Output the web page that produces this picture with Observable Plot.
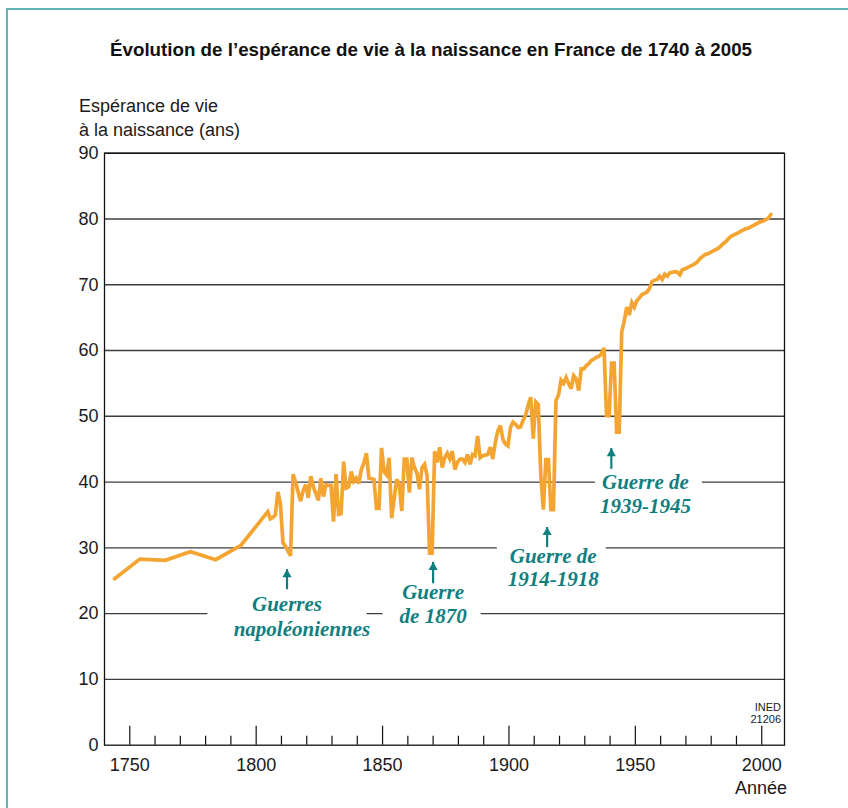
<!DOCTYPE html>
<html lang="fr">
<head>
<meta charset="utf-8">
<script src="https://cdn.jsdelivr.net/npm/d3@7"></script>
<script src="https://cdn.jsdelivr.net/npm/@observablehq/plot@0.6"></script>
<style>
  html, body { margin: 0; padding: 0; background: #fff; }
  #page { position: relative; width: 848px; height: 808px; overflow: hidden; background: #fff;
          font-family: "Liberation Sans", Arial, sans-serif; }
  #chart { position: absolute; left: 0; top: 130px; }
  #overlay { position: absolute; left: 0; top: 0; pointer-events: none; }
</style>
</head>
<body>
<div id="page">
  <div id="chart"></div>
  <svg id="overlay" width="848" height="808"></svg>
</div>
<script>
// ---------- Texts ----------
const titleText = "Évolution de l’espérance de vie à la naissance en France de 1740 à 2005";
const yTitleLines = ["Espérance de vie", "à la naissance (ans)"];
const xTitle = "Année";
const sourceLines = ["INED", "21206"];

// ---------- Data ----------
// Decade averages (x position as drawn)
const decadeYears  = [1744, 1754, 1764, 1774, 1784, 1794];
const decadeValues = [25.3, 28.3, 28.1, 29.4, 28.2, 30.4];

// Annual series (1806-2005), first point drawn at x = 1804.6, one point per year
const firstAnnualYear = 1804.6;
const annualValues = [
  35.5, 34.4, 34.6, 35.0, 38.5, 36.7, 30.8, 30.2, 29.5, 28.8,
  41.2, 40.0, 38.5, 37.1, 38.7, 39.6, 37.6, 40.9, 39.3, 38.3,
  37.2, 40.6, 37.8, 39.6, 39.5, 39.5, 34.0, 41.2, 35.1, 35.2,
  43.1, 39.1, 39.3, 41.6, 40.1, 40.6, 39.8, 41.9, 42.9, 44.4,
  40.6, 40.5, 40.4, 36.0, 36.0, 45.2, 41.6, 41.1, 43.7, 34.5,
  37.5, 40.4, 39.7, 35.6, 43.5, 43.5, 38.4, 43.7, 42.2, 41.4,
  38.9, 42.2, 42.7, 41.0, 29.2, 29.2, 44.7, 43.0, 45.3, 42.2,
  43.7, 44.4, 43.5, 44.7, 41.9, 43.0, 43.5, 43.5, 43.0, 44.2,
  42.7, 44.2, 44.0, 47.0, 43.7, 44.0, 44.1, 44.2, 45.3, 43.5,
  46.0, 47.8, 48.6, 46.5, 45.8, 45.5, 48.3, 49.1, 48.8, 48.3,
  48.4, 49.4, 50.2, 51.7, 52.9, 46.6, 52.2, 51.8, 41.0, 35.8,
  43.4, 43.4, 35.8, 35.8, 52.4, 53.2, 55.5, 55.0, 55.9, 55.0,
  54.2, 56.2, 55.7, 53.9, 57.2, 57.2, 57.7, 58.0, 58.5, 58.7,
  59.0, 59.1, 59.5, 60.4, 50.1, 50.1, 58.1, 58.1, 47.6, 47.6,
  62.8, 64.5, 66.6, 65.4, 67.3, 66.6, 67.6, 68.0, 68.5, 68.7,
  68.9, 69.4, 70.5, 70.7, 70.8, 71.3, 70.8, 71.6, 71.3, 71.8,
  71.9, 72.0, 71.9, 71.5, 72.3, 72.4, 72.6, 72.8, 73.0, 73.2,
  73.5, 74.0, 74.3, 74.6, 74.7, 74.9, 75.1, 75.3, 75.5, 75.8,
  76.2, 76.5, 76.9, 77.3, 77.5, 77.7, 77.9, 78.1, 78.3, 78.5,
  78.6, 78.8, 79.0, 79.2, 79.4, 79.6, 79.7, 79.9, 80.1, 80.7
];

// Ticks
const xMajorTicks = [1750, 1800, 1850, 1900, 1950, 2000];
const xMinorTicks = [1760, 1770, 1780, 1790, 1810, 1820, 1830, 1840, 1860, 1870, 1880, 1890,
                     1910, 1920, 1930, 1940, 1960, 1970, 1980, 1990];
const yTicks = [0, 10, 20, 30, 40, 50, 60, 70, 80, 90];

// Annotations
const annotationLines = [
  {text: "Guerres",        year: 1812.2, value: 21.4},
  {text: "napoléoniennes", year: 1818.1, value: 17.7},
  {text: "Guerre",         year: 1870.0, value: 23.2},
  {text: "de 1870",        year: 1870.0, value: 19.6},
  {text: "Guerre de",      year: 1917.5, value: 28.7},
  {text: "1914-1918",      year: 1917.5, value: 25.2},
  {text: "Guerre de",      year: 1954.0, value: 39.9},
  {text: "1939-1945",      year: 1954.0, value: 36.3}
];
const arrowYears = [1812.2, 1870.0, 1915.1, 1940.5];
const arrowTips  = [26.7, 27.8, 33.1, 45.1];
const arrowTails = [24.4, 25.3, 30.8, 42.7];
const labelBoxes = [
  {x1: 1780.9, x2: 1843.9, y1: 15.5, y2: 23.0},
  {x1: 1850.2, x2: 1889.0, y1: 15.5, y2: 25.0},
  {x1: 1895.4, x2: 1938.5, y1: 23.0, y2: 31.3},
  {x1: 1934.2, x2: 1976.5, y1: 34.0, y2: 42.0}
];

// ---------- Build table ----------
const series = [
  ...decadeYears.map((y, i) => ({year: y, e0: decadeValues[i]})),
  ...annualValues.map((v, i) => ({year: firstAnnualYear + i, e0: v}))
];
const arrows = arrowYears.map((y, i) => ({year: y, tip: arrowTips[i], tail: arrowTails[i]}));

// ---------- Layout ----------
const W = 848, H = 678;
const mTop = 22.7, mBottom = 63.3, mLeft = 104, mRight = 64;
const pxPerUnit = (H - mTop - mBottom) / 90;
const majorLen = 19 / pxPerUnit, minorLen = 9 / pxPerUnit;
const teal = "#0f7f80";
const orange = "#f4a531";

const chart = Plot.plot({
  width: W,
  height: H,
  marginTop: mTop,
  marginBottom: mBottom,
  marginLeft: mLeft,
  marginRight: mRight,
  style: {fontFamily: '"Liberation Sans", Arial, sans-serif', fontSize: "18px", color: "#1a1a1a", background: "transparent", overflow: "visible"},
  x: {domain: [1740, 2009]},
  y: {domain: [0, 90]},
  marks: [
    Plot.ruleY(yTicks.filter(d => d > 0), {stroke: "#3c3c3c", strokeWidth: 1.4}),
    Plot.rect(labelBoxes, {x1: "x1", x2: "x2", y1: "y1", y2: "y2", fill: "white"}),
    Plot.ruleX(xMajorTicks, {x: d => d, y1: 0, y2: majorLen, stroke: "#111", strokeWidth: 1.2}),
    Plot.ruleX(xMinorTicks, {x: d => d, y1: 0, y2: minorLen, stroke: "#111", strokeWidth: 1.2}),
    Plot.frame({stroke: "#111", strokeWidth: 1.3}),
    Plot.line(series, {x: "year", y: "e0", stroke: orange, strokeWidth: 3.7, strokeLinejoin: "miter", strokeMiterlimit: 3}),
    Plot.ruleX(arrows, {x: "year", y1: "tail", y2: "tip", stroke: teal, strokeWidth: 2.2, insetTop: 5}),
    Plot.dot(arrows, {x: "year", y: "tip", symbol: "triangle", r: 3.4, fill: teal, stroke: "none", dy: 5}),
    Plot.text(annotationLines, {x: "year", y: "value", text: "text", fill: teal,
      fontFamily: '"Liberation Serif", "Times New Roman", serif', fontStyle: "italic", fontWeight: "bold", fontSize: 21}),
    Plot.axisX(xMajorTicks, {tickSize: 0, tickPadding: 13, label: null, tickFormat: d => String(d), fontSize: 18}),
    Plot.axisY(yTicks, {tickSize: 0, tickPadding: 6, label: null, fontSize: 18})
  ]
});
document.getElementById("chart").appendChild(chart);

// ---------- Title font: condensed bold, sized to the reference width ----------
const targetTitleWidth = 642;
const ctx = document.createElement("canvas").getContext("2d");
function measure(family, size) { ctx.font = `bold ${size}px ${family}`; return ctx.measureText(titleText).width; }
const narrowFamily = '"Liberation Sans Narrow"';
const hasNarrow = measure(narrowFamily + ", monospace", 22) !== measure("monospace", 22);
const titleFamily = hasNarrow ? narrowFamily + ', "Liberation Sans", Arial, sans-serif' : '"Liberation Sans", Arial, sans-serif';
let titleSize = 22 * targetTitleWidth / measure(titleFamily, 22);
titleSize = Math.min(22, titleSize);

// ---------- Overlay texts and border ----------
const ov = d3.select("#overlay");
ov.append("line").attr("x1", 7).attr("x2", 7).attr("y1", 9).attr("y2", 808)
  .attr("stroke", "#5fb4b6").attr("stroke-width", 2);
ov.append("line").attr("x1", 6).attr("x2", 848).attr("y1", 9).attr("y2", 9)
  .attr("stroke", "#5fb4b6").attr("stroke-width", 2);
ov.append("text").attr("x", 431).attr("y", 55.5).attr("text-anchor", "middle")
  .attr("font-family", titleFamily).attr("font-weight", "bold")
  .attr("font-size", titleSize.toFixed(2))
  .attr("fill", "#111").text(titleText);
yTitleLines.forEach((t, i) => {
  ov.append("text").attr("x", 79).attr("y", 111.5 + 24 * i)
    .attr("font-family", '"Liberation Sans", Arial, sans-serif').attr("font-size", 18)
    .attr("fill", "#1a1a1a").text(t);
});
ov.append("text").attr("x", 787).attr("y", 794).attr("text-anchor", "end")
  .attr("font-family", '"Liberation Sans", Arial, sans-serif').attr("font-size", 18)
  .attr("fill", "#1a1a1a").text(xTitle);
sourceLines.forEach((t, i) => {
  ov.append("text").attr("x", 781).attr("y", 711 + 11.5 * i).attr("text-anchor", "end")
    .attr("font-family", '"Liberation Sans", Arial, sans-serif').attr("font-size", 11)
    .attr("fill", "#1a1a1a").text(t);
});
</script>
</body>
</html>
